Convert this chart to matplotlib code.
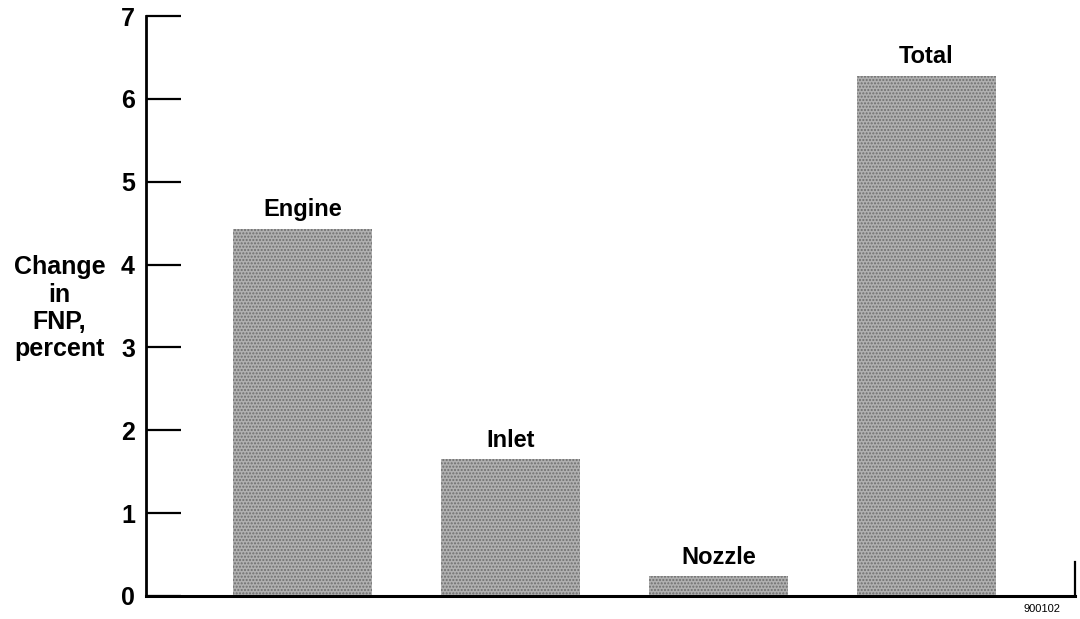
import matplotlib
matplotlib.use('Agg')
import matplotlib.pyplot as plt
import numpy as np

categories = ['Engine', 'Inlet', 'Nozzle', 'Total']
values = [4.43, 1.65, 0.24, 6.28]
yticks = [0, 1, 2, 3, 4, 5, 6, 7]

plt.rcParams['font.family'] = ['Liberation Sans', 'DejaVu Sans']
plt.rcParams['font.weight'] = 'bold'

fig = plt.figure(figsize=(10.8, 6.19), dpi=100)
ax = fig.add_axes([0.1352, 0.0372, 0.8602, 0.9368])

x = np.arange(len(categories))
bars = ax.bar(x, values, width=0.67, color='#b0b0b0', edgecolor='#6e6e6e',
              linewidth=0, hatch='.....', zorder=2)

for xi, v, name in zip(x, values, categories):
    ax.annotate(name, (xi, v), xytext=(0, 9), textcoords='offset points',
                ha='center', va='baseline', fontsize=17, fontweight='bold')

ax.set_xlim(-0.752, 3.714)
ax.set_ylim(0, 7)
ax.set_yticks(yticks)
ax.set_xticks([])
ax.tick_params(axis='y', direction='in', length=25, width=1.6, pad=8,
               labelsize=18)
for lab in ax.get_yticklabels():
    lab.set_fontweight('bold')

ax.spines['top'].set_visible(False)
ax.spines['left'].set_linewidth(2)
ax.spines['bottom'].set_linewidth(2.2)
ax.spines['right'].set_linewidth(1.6)
ax.spines['right'].set_bounds(0, 0.41)

fig.text(0.055, 0.502, 'Change\nin\nFNP,\npercent', ha='center', va='center',
         fontsize=18, fontweight='bold', linespacing=1.17)
fig.text(0.9815, 0.008, '900102', ha='right', va='bottom', fontsize=8,
         fontweight='normal')

fig.savefig('out.png', dpi=100)
